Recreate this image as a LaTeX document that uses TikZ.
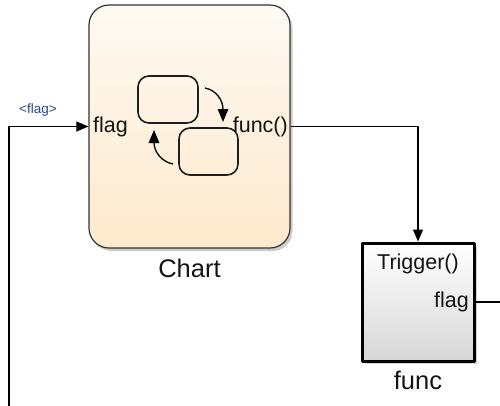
\documentclass[tikz,border=0pt]{standalone}
\usepackage{fontspec}
\setmainfont{Liberation Sans}
\usetikzlibrary{shadows,arrows.meta,calc}
\definecolor{chtop}{RGB}{254,250,243}
\definecolor{chbot}{RGB}{253,233,204}
\definecolor{sigblue}{RGB}{40,70,140}
\begin{document}
\begin{tikzpicture}[x=1pt,y=-1pt,
  line join=round,
  tip/.style={-{Triangle[length=12pt,width=10pt]}},
  itip/.style={-{Triangle[length=13pt,width=10.5pt]}},
  chartblk/.style={draw={rgb,255:red,50;green,50;blue,50}, line width=1.2pt, rounded corners=20pt,
    minimum width=201pt, minimum height=243pt, top color=chtop, bottom color=chbot,
    drop shadow={opacity=0.4, shadow xshift=2.5pt, shadow yshift=-3pt}},
  funcblk/.style={draw=black, line width=3pt, minimum width=112pt, minimum height=118pt,
    top color=white, bottom color={rgb,255:red,215;green,215;blue,215},
    drop shadow={opacity=0.35, shadow xshift=3pt, shadow yshift=-3pt}},
  statebox/.style={draw={rgb,255:red,30;green,30;blue,30}, line width=1.6pt, rounded corners=11pt, inner sep=0pt},
  wire/.style={line width=1.1pt},
  lbl/.style={font=\fontsize{21.5}{24}\selectfont, inner sep=0pt, text={rgb,255:red,20;green,20;blue,20}},
  blbl/.style={font=\fontsize{25.5}{28}\selectfont, inner sep=0pt, text={rgb,255:red,20;green,20;blue,20}},
]
\useasboundingbox (0,0) rectangle (500,405);
\node[chartblk] (chart) at (189.5,126.5) {};
\node[funcblk] (func) at (418,302) {};
% states
\node[statebox, minimum width=60pt, minimum height=47pt] (s1) at (168,99.5) {};
\node[statebox, minimum width=59pt, minimum height=47pt] (s2) at (208.5,151.5) {};
\coordinate (a1s) at (205,88);
\coordinate (a1e) at (223,122);
\coordinate (a2s) at (173,164);
\coordinate (a2e) at (154,130);
\draw[line width=1.3pt, itip] (a1s) .. controls (216,90) and (223,100) .. (a1e);
\draw[line width=1.3pt, itip] (a2s) .. controls (162,162) and (154,152) .. (a2e);
% port labels
\node[lbl, anchor=west] (pin) at (93,127) {flag};
\node[lbl, anchor=east] (pout) at (288,127) {func()};
\node[lbl] (trig) at (418,264) {Trigger()};
\node[lbl, anchor=east] (fout) at (469,302) {flag};
% block labels
\node[blbl] (chartname) at (189.5,268) {Chart};
\node[blbl] (funcname) at (418,380) {func};
% signal label
\node[font=\fontsize{13.5}{15}\selectfont, text=sigblue, inner sep=0pt] (siglbl) at (38,110) {<flag>};
% connectors
\coordinate (src) at (9,406);
\coordinate (dst) at (501,302);
\draw[wire, tip] (src) |- (chart.west);
\draw[wire, tip] (chart.east) -| (func.north);
\draw[wire] (func.east) -- (dst);
\end{tikzpicture}
\end{document}
